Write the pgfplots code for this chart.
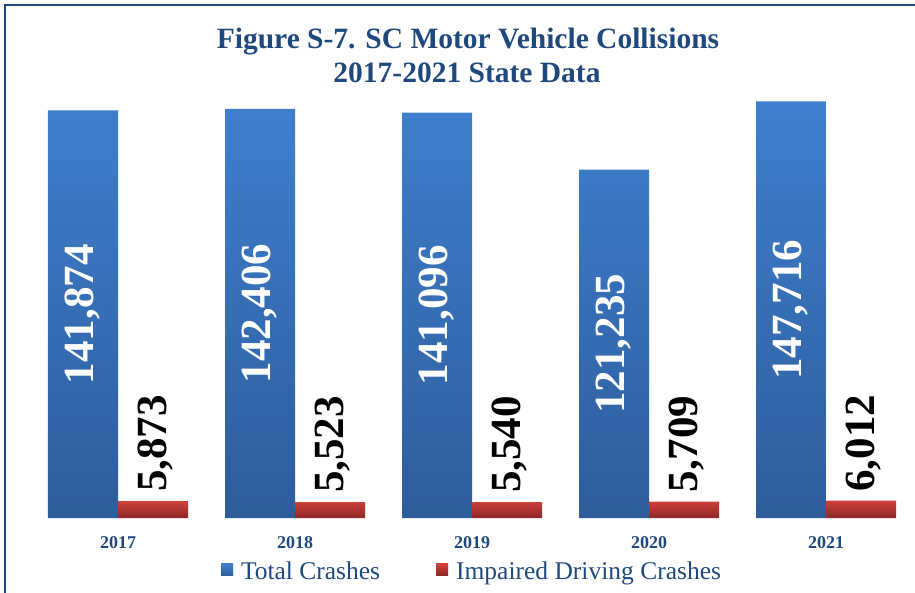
\documentclass[border=0pt]{standalone}
\usepackage{pgfplots}
\pgfplotsset{compat=1.18}
\usepackage{fontspec}
\setmainfont{Liberation Serif}
\definecolor{titleblue}{RGB}{31,73,125}
\definecolor{btop}{RGB}{62,128,206}
\definecolor{bbot}{RGB}{46,92,155}
\definecolor{rtop}{RGB}{208,64,60}
\definecolor{rbot}{RGB}{142,38,36}
\begin{document}
\begin{tikzpicture}
\path[use as bounding box] (0pt,0pt) rectangle (915pt,-592pt);
\draw[titleblue, line width=1.5pt] (5pt,-600pt) -- (5pt,-5pt) -- (920pt,-5pt);
\node[anchor=base, text=titleblue, font=\bfseries\fontsize{29.5}{34}\selectfont, inner sep=0pt] at (468pt,-48pt) {Figure S-7. SC Motor Vehicle Collisions};
\node[anchor=base, text=titleblue, font=\bfseries\fontsize{29.5}{34}\selectfont, inner sep=0pt] at (467pt,-82pt) {2017-2021 State Data};
\begin{axis}[
  at={(29.5pt,-518pt)}, anchor=south west,
  scale only axis, width=885pt, height=431pt,
  xmin=-0.5, xmax=4.5, ymin=0, ymax=150000,
  ybar=0pt, bar width=70pt,
  hide y axis,
  axis x line*=bottom,
  x axis line style={draw=none},
  xtick={0,1,2,3,4},
  xticklabels={2017,2018,2019,2020,2021},
  xtick style={draw=none},
  xticklabel style={anchor=base, yshift=-26pt, text=titleblue, font=\bfseries\fontsize{18}{20}\selectfont},
  clip=false,
  legend style={at={(0.5,-0.125)}, anchor=center, draw=none, fill=none,
    legend columns=2, font=\fontsize{25.5}{30}\selectfont, text=titleblue,
    /tikz/every even column/.append style={column sep=54pt}},
  legend image code/.code={\path[#1, draw=none] (0pt,-4pt) rectangle (12pt,8pt); \path (18pt,0pt);},
]
% Total crashes (bar heights as drawn in the reference)
\addplot[draw=none, top color=btop, bottom color=bbot] coordinates {(0,141874) (1,142406) (2,141096) (3,121235) (4,145000)};
\addplot[draw=none, top color=rtop, bottom color=rbot,
  nodes near coords={\pgfmathprintnumber[fixed, 1000 sep={,}, assume math mode=true]{\pgfplotspointmeta}},
  every node near coord/.append style={xshift=3pt, rotate=90, anchor=west, inner xsep=9pt, inner ysep=0pt, text=black, font=\bfseries\fontsize{43}{45}\selectfont}]
  coordinates {(0,5873) (1,5523) (2,5540) (3,5709) (4,6012)};
\legend{Total Crashes, Impaired Driving Crashes}
\node[rotate=90, text=white, font=\bfseries\fontsize{43}{45}\selectfont] at (axis cs:-0.1977,70937) {141,874};
\node[rotate=90, text=white, font=\bfseries\fontsize{43}{45}\selectfont] at (axis cs:0.8023,71203) {142,406};
\node[rotate=90, text=white, font=\bfseries\fontsize{43}{45}\selectfont] at (axis cs:1.8023,70548) {141,096};
\node[rotate=90, text=white, font=\bfseries\fontsize{43}{45}\selectfont] at (axis cs:2.8023,60617) {121,235};
\node[rotate=90, text=white, font=\bfseries\fontsize{43}{45}\selectfont] at (axis cs:3.8023,72500) {147,716};
\end{axis}
\end{tikzpicture}
\end{document}
